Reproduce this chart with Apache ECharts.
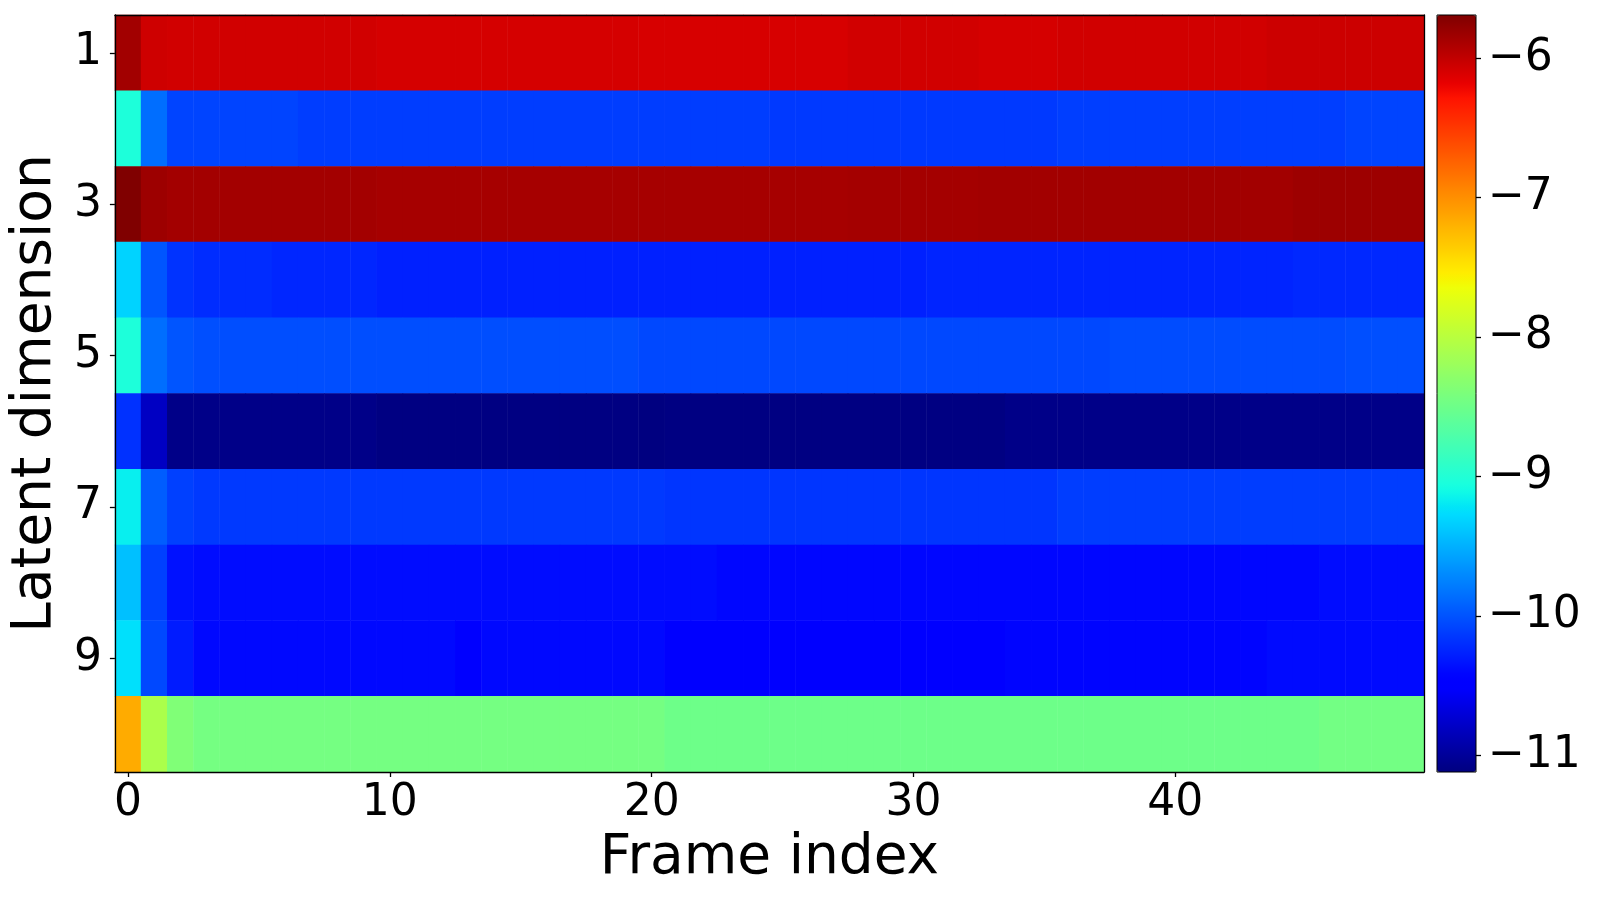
<!DOCTYPE html>
<html><head><meta charset="utf-8">
<script src="https://cdn.jsdelivr.net/npm/echarts@6/dist/echarts.min.js"></script>
<style>html,body{margin:0;padding:0;background:#fff}#c{width:1600px;height:900px}</style>
</head><body><div id="c"></div>
<script>
const frames = [0,1,2,3,4,5,6,7,8,9,10,11,12,13,14,15,16,17,18,19,20,21,22,23,24,25,26,27,28,29,30,31,32,33,34,35,36,37,38,39,40,41,42,43,44,45,46,47,48,49];
const dims = ['1','2','3','4','5','6','7','8','9','10'];
const colorbarTicks = [-11,-10,-9,-8,-7,-6];

const dim1 = [-5.85,-6.06,-6.07,-6.07,-6.07,-6.07,-6.07,-6.07,-6.07,-6.07,
  -6.09,-6.09,-6.09,-6.09,-6.09,-6.09,-6.09,-6.09,-6.09,-6.09,
  -6.10,-6.10,-6.10,-6.10,-6.10,-6.10,-6.10,-6.10,-6.07,-6.07,
  -6.07,-6.07,-6.07,-6.09,-6.09,-6.09,-6.07,-6.07,-6.07,-6.07,
  -6.07,-6.07,-6.07,-6.07,-6.05,-6.05,-6.05,-6.05,-6.05,-6.05];
const dim2 = [-9.03,-9.86,-10.08,-10.08,-10.08,-10.08,-10.08,-10.12,-10.12,-10.12,
  -10.12,-10.12,-10.12,-10.12,-10.12,-10.12,-10.12,-10.12,-10.12,-10.12,
  -10.12,-10.12,-10.12,-10.12,-10.12,-10.14,-10.14,-10.14,-10.14,-10.14,
  -10.14,-10.14,-10.14,-10.14,-10.14,-10.14,-10.11,-10.11,-10.11,-10.11,
  -10.11,-10.11,-10.11,-10.11,-10.11,-10.11,-10.11,-10.08,-10.08,-10.08];
const dim3 = [-5.69,-5.83,-5.855,-5.855,-5.855,-5.855,-5.855,-5.855,-5.855,-5.855,
  -5.87,-5.87,-5.87,-5.87,-5.87,-5.87,-5.87,-5.87,-5.87,-5.87,
  -5.87,-5.87,-5.87,-5.87,-5.87,-5.87,-5.87,-5.87,-5.86,-5.86,
  -5.86,-5.86,-5.86,-5.85,-5.85,-5.85,-5.85,-5.85,-5.85,-5.85,
  -5.85,-5.85,-5.85,-5.85,-5.85,-5.83,-5.83,-5.83,-5.83,-5.83];
const dim4 = [-9.315,-9.99,-10.17,-10.21,-10.21,-10.21,-10.24,-10.24,-10.24,-10.24,
  -10.27,-10.27,-10.27,-10.27,-10.27,-10.27,-10.27,-10.27,-10.27,-10.27,
  -10.27,-10.27,-10.27,-10.27,-10.27,-10.27,-10.27,-10.27,-10.27,-10.27,
  -10.27,-10.25,-10.25,-10.25,-10.25,-10.25,-10.25,-10.25,-10.25,-10.25,
  -10.25,-10.25,-10.25,-10.25,-10.25,-10.23,-10.23,-10.23,-10.23,-10.23];
const dim5 = [-9.03,-9.86,-9.99,-10.02,-10.03,-10.03,-10.03,-10.03,-10.03,-10.03,
  -10.03,-10.03,-10.03,-10.03,-10.03,-10.03,-10.03,-10.03,-10.03,-10.03,
  -10.06,-10.06,-10.06,-10.06,-10.06,-10.06,-10.06,-10.06,-10.06,-10.06,
  -10.06,-10.06,-10.06,-10.06,-10.06,-10.06,-10.06,-10.06,-10.04,-10.04,
  -10.04,-10.04,-10.04,-10.04,-10.04,-10.04,-10.04,-10.02,-10.02,-10.02];
const dim6 = [-10.18,-10.80,-11.08,-11.08,-11.08,-11.08,-11.08,-11.08,-11.08,-11.08,
  -11.11,-11.11,-11.11,-11.11,-11.11,-11.11,-11.11,-11.11,-11.11,-11.11,
  -11.12,-11.11,-11.11,-11.11,-11.11,-11.11,-11.11,-11.11,-11.11,-11.11,
  -11.11,-11.11,-11.11,-11.11,-11.08,-11.08,-11.08,-11.08,-11.08,-11.08,
  -11.08,-11.08,-11.08,-11.08,-11.08,-11.08,-11.08,-11.08,-11.08,-11.08];
const dim7 = [-9.17,-9.95,-10.10,-10.14,-10.14,-10.14,-10.14,-10.14,-10.14,-10.14,
  -10.14,-10.14,-10.14,-10.14,-10.14,-10.14,-10.14,-10.14,-10.14,-10.14,
  -10.14,-10.16,-10.16,-10.16,-10.16,-10.16,-10.16,-10.16,-10.16,-10.16,
  -10.16,-10.16,-10.16,-10.16,-10.16,-10.16,-10.12,-10.12,-10.12,-10.12,
  -10.12,-10.12,-10.12,-10.12,-10.12,-10.12,-10.12,-10.12,-10.12,-10.12];
const dim8 = [-9.42,-10.10,-10.35,-10.38,-10.38,-10.38,-10.38,-10.38,-10.38,-10.38,
  -10.38,-10.38,-10.38,-10.38,-10.38,-10.38,-10.38,-10.38,-10.38,-10.38,
  -10.38,-10.38,-10.38,-10.41,-10.41,-10.41,-10.41,-10.41,-10.41,-10.41,
  -10.41,-10.41,-10.41,-10.41,-10.41,-10.41,-10.41,-10.41,-10.41,-10.41,
  -10.41,-10.41,-10.41,-10.41,-10.41,-10.41,-10.38,-10.38,-10.38,-10.38];
const dim9 = [-9.25,-10.06,-10.30,-10.40,-10.40,-10.40,-10.40,-10.40,-10.40,-10.40,
  -10.40,-10.40,-10.40,-10.45,-10.40,-10.40,-10.40,-10.40,-10.40,-10.40,
  -10.40,-10.45,-10.45,-10.45,-10.45,-10.45,-10.45,-10.45,-10.45,-10.45,
  -10.45,-10.45,-10.45,-10.45,-10.42,-10.42,-10.42,-10.42,-10.42,-10.42,
  -10.42,-10.42,-10.42,-10.42,-10.39,-10.39,-10.39,-10.39,-10.39,-10.39];
const dim10 = [-7.16,-8.09,-8.38,-8.45,-8.45,-8.45,-8.45,-8.45,-8.45,-8.45,
  -8.45,-8.45,-8.45,-8.45,-8.45,-8.45,-8.45,-8.45,-8.45,-8.45,
  -8.45,-8.50,-8.50,-8.50,-8.50,-8.50,-8.50,-8.50,-8.50,-8.50,
  -8.50,-8.50,-8.50,-8.50,-8.50,-8.50,-8.50,-8.50,-8.50,-8.50,
  -8.50,-8.50,-8.50,-8.50,-8.50,-8.50,-8.46,-8.46,-8.46,-8.46];

const rows = [dim1, dim2, dim3, dim4, dim5, dim6, dim7, dim8, dim9, dim10];
const data = [];
rows.forEach((r, yi) => r.forEach((v, xi) => data.push([xi, yi, v])));
let vmin = Infinity, vmax = -Infinity;
rows.forEach(r => r.forEach(v => { if (v < vmin) vmin = v; if (v > vmax) vmax = v; }));

// matplotlib 'jet' colormap
function seg(pts, t) {
  for (let i = 1; i < pts.length; i++) {
    if (t <= pts[i][0]) {
      const [x0, y0] = pts[i-1], [x1, y1] = pts[i];
      return y0 + (y1 - y0) * (t - x0) / (x1 - x0);
    }
  }
  return pts[pts.length-1][1];
}
const R = [[0,0],[0.35,0],[0.66,1],[0.89,1],[1,0.5]];
const G = [[0,0],[0.125,0],[0.375,1],[0.64,1],[0.91,0],[1,0]];
const B = [[0,0.5],[0.11,1],[0.34,1],[0.65,0],[1,0]];
function jet(t) {
  const h = x => Math.round(Math.max(0, Math.min(1, x)) * 255).toString(16).padStart(2, '0');
  return '#' + h(seg(R, t)) + h(seg(G, t)) + h(seg(B, t));
}
const jetColors = [];
for (let i = 0; i <= 256; i++) jetColors.push(jet(i / 256));

const FONT = 'DejaVu Sans';
const L = 113, T = 15, W = 1311, H = 757;
const CBL = 1437, CBW = 39;
const TICKFS = 44;

const chart = echarts.init(document.getElementById('c'), null, {renderer: 'canvas'});
chart.setOption({
  animation: false,
  backgroundColor: '#fff',
  grid: [
    {left: L, top: T, width: W, height: H, containLabel: false},
    {left: CBL, top: T, width: CBW, height: H, containLabel: false, show: true,
     borderColor: '#000', borderWidth: 1, backgroundColor: 'transparent', z: 10}
  ],
  xAxis: [
    {type: 'category', gridIndex: 0, data: frames, position: 'bottom', z: 10,
     name: 'Frame index', nameLocation: 'middle', nameGap: 55,
     nameTextStyle: {fontFamily: FONT, fontSize: 55, color: '#000', verticalAlign: 'top'},
     axisLine: {show: true, lineStyle: {color: '#000', width: 1.3}},
     axisTick: {show: true, alignWithLabel: true, length: 5, interval: (i) => i % 10 === 0, lineStyle: {color: '#000', width: 1.3}},
     axisLabel: {show: true, interval: (i) => i % 10 === 0, fontFamily: FONT, fontSize: TICKFS, color: '#000', margin: 10},
     splitLine: {show: false}},
    {type: 'category', gridIndex: 0, data: frames, position: 'top', z: 10,
     axisLine: {show: true, lineStyle: {color: '#000', width: 1.3}},
     axisTick: {show: false}, axisLabel: {show: false}, splitLine: {show: false}},
    {type: 'category', gridIndex: 1, data: ['c'], show: false}
  ],
  yAxis: [
    {type: 'category', gridIndex: 0, data: dims, inverse: true, position: 'left', z: 10,
     name: 'Latent dimension', nameLocation: 'middle', nameGap: 41, nameRotate: 90,
     nameTextStyle: {fontFamily: FONT, fontSize: 55, color: '#000'},
     axisLine: {show: true, lineStyle: {color: '#000', width: 1.3}},
     axisTick: {show: true, alignWithLabel: true, length: 5, interval: 1, lineStyle: {color: '#000', width: 1.3}},
     axisLabel: {show: true, interval: 1, fontFamily: FONT, fontSize: TICKFS, color: '#000', margin: 13, padding: [10, 0, 0, 0]},
     splitLine: {show: false}},
    {type: 'category', gridIndex: 0, data: dims, inverse: true, position: 'right', z: 10,
     axisLine: {show: true, lineStyle: {color: '#000', width: 1.3}},
     axisTick: {show: false}, axisLabel: {show: false}, splitLine: {show: false}},
    {type: 'value', gridIndex: 1, min: vmin, max: vmax, position: 'right', z: 10,
     axisLine: {show: false},
     axisTick: {show: true, length: 5, customValues: colorbarTicks, lineStyle: {color: '#000', width: 1.3}},
     axisLabel: {show: true, customValues: colorbarTicks, fontFamily: FONT, fontSize: TICKFS, color: '#000', margin: 12, padding: [11, 0, 0, 0],
                 formatter: (v) => (v < 0 ? '\u2212' : '') + Math.abs(Math.round(v))},
     splitLine: {show: false}}
  ],
  visualMap: [{
    type: 'continuous', seriesIndex: 0, min: vmin, max: vmax, dimension: 2,
    inRange: {color: jetColors},
    calculable: false, realtime: false, hoverLink: false,
    orient: 'vertical', left: CBL, top: T, itemWidth: CBW, itemHeight: H,
    padding: 0, text: null, show: true, textGap: 0
  }],
  series: [{
    type: 'heatmap', xAxisIndex: 0, yAxisIndex: 0, data: data,
    itemStyle: {borderWidth: 0}, emphasis: {disabled: true}, progressive: 0
  }]
});
</script></body></html>
